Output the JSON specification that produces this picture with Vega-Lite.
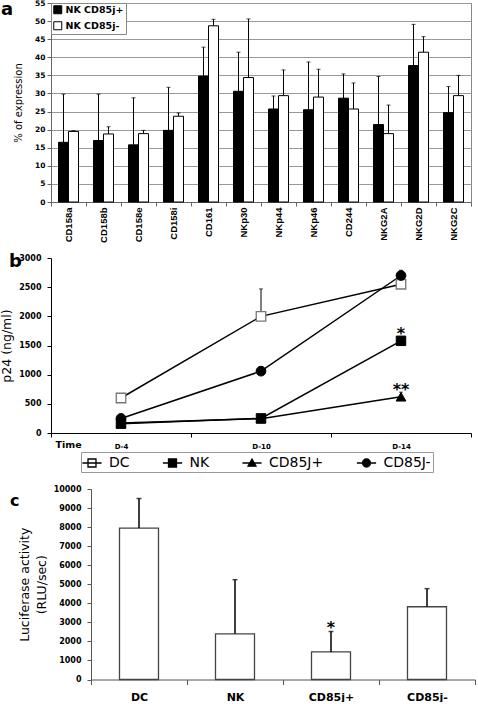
{
  "$schema": "https://vega.github.io/schema/vega-lite/v6.json",
  "background": "white",
  "padding": {"left": 0, "top": -2, "right": 0, "bottom": 0},
  "bounds": "flush",
  "spacing": 56,
  "resolve": {
    "scale": {"fill": "independent", "shape": "independent", "stroke": "independent"},
    "legend": {"fill": "independent", "shape": "independent", "stroke": "independent"}
  },
  "config": {
    "font": "DejaVu Sans",
    "axis": {"labelFont": "DejaVu Sans", "labelFontWeight": "bold", "labelColor": "black", "titleFont": "DejaVu Sans", "titleFontWeight": "normal", "titleColor": "black", "domainColor": "#444", "tickColor": "#444", "grid": false, "tickSize": 4, "labelOverlap": false},
    "legend": {"labelFont": "DejaVu Sans", "labelColor": "black"},
    "title": {"font": "DejaVu Sans", "fontWeight": "bold", "color": "black"}
  },
  "datasets": {
    "a": [
      {"marker": "CD158a", "group": "NK CD85j+", "value": 16.5, "err": 29.8},
      {"marker": "CD158a", "group": "NK CD85j-", "value": 19.5, "err": 19.7},
      {"marker": "CD158b", "group": "NK CD85j+", "value": 17.0, "err": 29.8},
      {"marker": "CD158b", "group": "NK CD85j-", "value": 18.8, "err": 20.8},
      {"marker": "CD158e", "group": "NK CD85j+", "value": 15.8, "err": 28.8},
      {"marker": "CD158e", "group": "NK CD85j-", "value": 18.9, "err": 19.8},
      {"marker": "CD158i", "group": "NK CD85j+", "value": 19.8, "err": 31.7},
      {"marker": "CD158i", "group": "NK CD85j-", "value": 23.7, "err": 24.6},
      {"marker": "CD161", "group": "NK CD85j+", "value": 34.8, "err": 42.8},
      {"marker": "CD161", "group": "NK CD85j-", "value": 48.7, "err": 50.5},
      {"marker": "NKp30", "group": "NK CD85j+", "value": 30.6, "err": 41.4},
      {"marker": "NKp30", "group": "NK CD85j-", "value": 34.4, "err": 50.6},
      {"marker": "NKp44", "group": "NK CD85j+", "value": 25.7, "err": 29.3},
      {"marker": "NKp44", "group": "NK CD85j-", "value": 29.4, "err": 36.5},
      {"marker": "NKp46", "group": "NK CD85j+", "value": 25.5, "err": 38.7},
      {"marker": "NKp46", "group": "NK CD85j-", "value": 29.0, "err": 36.7},
      {"marker": "CD244", "group": "NK CD85j+", "value": 28.7, "err": 35.4},
      {"marker": "CD244", "group": "NK CD85j-", "value": 25.7, "err": 32.9},
      {"marker": "NKG2A", "group": "NK CD85j+", "value": 21.4, "err": 34.7},
      {"marker": "NKG2A", "group": "NK CD85j-", "value": 18.9, "err": 26.8},
      {"marker": "NKG2D", "group": "NK CD85j+", "value": 37.7, "err": 49.1},
      {"marker": "NKG2D", "group": "NK CD85j-", "value": 41.4, "err": 45.7},
      {"marker": "NKG2C", "group": "NK CD85j+", "value": 24.7, "err": 31.9},
      {"marker": "NKG2C", "group": "NK CD85j-", "value": 29.4, "err": 35.0}
    ],
    "b": [
      {"day": "D-4", "series": "DC", "value": 600, "err": 640},
      {"day": "D-10", "series": "DC", "value": 2000, "err": 2470},
      {"day": "D-14", "series": "DC", "value": 2550, "err": 2620},
      {"day": "D-4", "series": "NK", "value": 160, "err": null},
      {"day": "D-10", "series": "NK", "value": 250, "err": null},
      {"day": "D-14", "series": "NK", "value": 1580, "err": null},
      {"day": "D-4", "series": "CD85J+", "value": 170, "err": null},
      {"day": "D-10", "series": "CD85J+", "value": 245, "err": null},
      {"day": "D-14", "series": "CD85J+", "value": 620, "err": 700},
      {"day": "D-4", "series": "CD85J-", "value": 250, "err": 290},
      {"day": "D-10", "series": "CD85J-", "value": 1060, "err": 1140},
      {"day": "D-14", "series": "CD85J-", "value": 2700, "err": 2790}
    ],
    "bstars": [
      {"day": "D-14", "value": 1690, "label": "*"},
      {"day": "D-14", "value": 730, "label": "**"}
    ],
    "c": [
      {"cond": "DC", "value": 7950, "err": 9500},
      {"cond": "NK", "value": 2400, "err": 5240},
      {"cond": "CD85j+", "value": 1450, "err": 2520},
      {"cond": "CD85j-", "value": 3820, "err": 4770}
    ],
    "cstars": [
      {"cond": "CD85j+", "value": 2690, "label": "*"}
    ]
  },
  "vconcat": [
    {
      "width": 420,
      "height": 199,
      "view": {"stroke": "#888", "strokeWidth": 1},
      "title": {"text": "a", "anchor": "start", "orient": "top", "frame": "group", "fontSize": 18, "offset": 0, "dx": -50, "dy": 34, "baseline": "alphabetic"},
      "data": {"name": "a"},
      "encoding": {
        "x": {"field": "marker", "type": "nominal", "sort": null, "title": null,
          "scale": {"type": "band", "paddingInner": 0, "paddingOuter": 0},
          "axis": {"labelAngle": -90, "labelAlign": "right", "labelBaseline": "middle", "labelFont": "Liberation Sans", "labelFontSize": 9.5, "labelPadding": 1, "tickBand": "extent", "tickSize": 4, "domainColor": "#666", "tickColor": "#666"}},
        "xOffset": {"field": "group", "type": "nominal", "sort": null, "scale": {"paddingInner": 0, "paddingOuter": 0.75}}
      },
      "layer": [
        {
          "mark": {"type": "rule", "color": "black", "strokeWidth": 1},
          "encoding": {
            "y": {"field": "value", "type": "quantitative", "scale": {"domain": [0, 55], "nice": false},
              "axis": {"title": "% of expression", "values": [0, 5, 10, 15, 20, 25, 30, 35, 40, 45, 50, 55], "tickCount": 12, "grid": true, "gridColor": "#999", "labelFontSize": 7.5, "labelPadding": 2, "titleFontSize": 10, "titleX": -33, "titleBaseline": "middle", "domainColor": "#666", "tickColor": "#666"}},
            "y2": {"field": "err"}
          }
        },
        {
          "mark": {"type": "tick", "color": "black", "size": 4, "thickness": 1},
          "encoding": {"y": {"field": "err", "type": "quantitative", "scale": {"domain": [0, 55], "nice": false},
              "axis": {"title": "% of expression", "values": [0, 5, 10, 15, 20, 25, 30, 35, 40, 45, 50, 55], "tickCount": 12, "grid": true, "gridColor": "#999", "labelFontSize": 7.5, "labelPadding": 2, "titleFontSize": 10, "titleX": -33, "titleBaseline": "middle", "domainColor": "#666", "tickColor": "#666"}}}
        },
        {
          "mark": {"type": "bar", "stroke": "black", "strokeWidth": 1},
          "encoding": {
            "y": {"field": "value", "type": "quantitative", "scale": {"domain": [0, 55], "nice": false},
              "axis": {"title": "% of expression", "values": [0, 5, 10, 15, 20, 25, 30, 35, 40, 45, 50, 55], "tickCount": 12, "grid": true, "gridColor": "#999", "labelFontSize": 7.5, "labelPadding": 2, "titleFontSize": 10, "titleX": -33, "titleBaseline": "middle", "domainColor": "#666", "tickColor": "#666"}},
            "fill": {"field": "group", "type": "nominal", "sort": null,
              "scale": {"domain": ["NK CD85j+", "NK CD85j-"], "range": ["black", "white"]},
              "legend": {"title": null, "orient": "top-left", "offset": 0, "padding": 2, "strokeColor": "#888", "fillColor": "white", "symbolType": "square", "symbolSize": 64, "symbolStrokeColor": "black", "symbolStrokeWidth": 1, "labelFont": "DejaVu Sans", "labelFontWeight": "bold", "labelFontSize": 9.5, "rowPadding": 3, "labelOffset": 3}}
          }
        }
      ]
    },
    {
      "width": 420,
      "height": 175,
      "view": {"stroke": null},
      "title": {"text": "b", "anchor": "start", "orient": "top", "frame": "group", "fontSize": 18, "offset": 0, "dx": -42, "dy": 31, "baseline": "alphabetic"},
      "encoding": {
        "x": {"field": "day", "type": "nominal", "title": "Time",
          "scale": {"type": "band", "domain": ["D-4", "D-10", "D-14"], "paddingInner": 0, "paddingOuter": 0},
          "axis": {"labelAngle": 0, "labelFontSize": 7, "labelPadding": 5.5, "tickBand": "extent", "tickSize": 4, "titleFontWeight": "bold", "titleFontSize": 9.5, "titleX": 4, "titleY": 11, "titleAlign": "left", "titleBaseline": "middle", "domainColor": "black", "tickColor": "black"}},
        "y": {"field": "value", "type": "quantitative", "scale": {"domain": [0, 3000], "nice": false},
          "axis": {"title": "p24 (ng/ml)", "values": [0, 500, 1000, 1500, 2000, 2500, 3000], "tickCount": 7, "format": "d", "labelFontSize": 8, "labelPadding": 6, "titleFontSize": 12.5, "titleX": -45, "titleBaseline": "middle", "domainColor": "black", "tickColor": "black"}}
      },
      "layer": [
        {
          "data": {"name": "b"},
          "mark": {"type": "line", "color": "black", "strokeWidth": 1.5},
          "encoding": {"detail": {"field": "series"}}
        },
        {
          "data": {"name": "b"},
          "transform": [{"filter": "datum.err != null"}],
          "mark": {"type": "rule", "color": "black", "strokeWidth": 1},
          "encoding": {"y2": {"field": "err"}}
        },
        {
          "data": {"name": "b"},
          "transform": [{"filter": "datum.err != null"}],
          "mark": {"type": "tick", "color": "black", "size": 4, "thickness": 1},
          "encoding": {"y": {"field": "err", "type": "quantitative", "scale": {"domain": [0, 3000], "nice": false},
            "axis": {"title": "p24 (ng/ml)", "values": [0, 500, 1000, 1500, 2000, 2500, 3000], "tickCount": 7, "format": "d", "labelFontSize": 8, "labelPadding": 6, "titleFontSize": 12.5, "titleX": -45, "titleBaseline": "middle", "domainColor": "black", "tickColor": "black"}}}
        },
        {
          "data": {"name": "b"},
          "transform": [{"filter": {"field": "series", "equal": "DC"}}],
          "mark": {"type": "point", "shape": "square", "filled": true, "fill": "white", "stroke": "#777", "strokeWidth": 1.3, "size": 90, "opacity": 1}
        },
        {
          "data": {"name": "b"},
          "transform": [{"filter": {"field": "series", "equal": "NK"}}],
          "mark": {"type": "point", "shape": "square", "filled": true, "fill": "black", "stroke": "black", "strokeWidth": 1, "size": 90, "opacity": 1}
        },
        {
          "data": {"name": "b"},
          "transform": [{"filter": {"field": "series", "equal": "CD85J+"}}],
          "mark": {"type": "point", "shape": "triangle-up", "filled": true, "fill": "black", "stroke": "black", "strokeWidth": 1, "size": 95, "opacity": 1}
        },
        {
          "data": {"name": "b"},
          "transform": [{"filter": {"field": "series", "equal": "CD85J-"}}],
          "mark": {"type": "point", "shape": "circle", "filled": true, "fill": "black", "stroke": "black", "strokeWidth": 1, "size": 95, "opacity": 1}
        },
        {
          "data": {"name": "b"},
          "transform": [{"filter": "false"}],
          "mark": {"type": "point", "filled": false, "color": "black", "strokeWidth": 1.3, "opacity": 1},
          "encoding": {
            "shape": {"field": "series", "type": "nominal",
              "scale": {"domain": ["DC", "NK", "CD85J+", "CD85J-"], "range": ["M-1.2,0H1.2M-0.5,-0.5H0.5V0.5H-0.5Z", "M-1.2,0H1.2M-0.5,-0.5H0.5V0.5H-0.5Z", "M-1.2,0H1.2M0,-0.5L0.5,0.4L-0.5,0.4Z", "M-1.2,0H1.2M0.5,0A0.5,0.5,0,1,1,-0.5,0A0.5,0.5,0,1,1,0.5,0Z"]},
              "legend": {"title": "\u2003", "titleOrient": "left", "titleFontSize": 14, "titlePadding": 0, "orient": "none", "legendX": 30, "legendY": 194, "direction": "horizontal", "columns": 4, "padding": 2, "strokeColor": "#999", "fillColor": "white", "symbolSize": 256, "symbolStrokeWidth": 1.3, "labelFontSize": 14, "labelOffset": 8, "columnPadding": 29.5}},
            "stroke": {"field": "series", "type": "nominal",
              "scale": {"domain": ["DC", "NK", "CD85J+", "CD85J-"], "range": ["black", "black", "black", "black"]},
              "legend": {"title": "\u2003", "titleOrient": "left", "titleFontSize": 14, "titlePadding": 0, "orient": "none", "legendX": 30, "legendY": 194, "direction": "horizontal", "columns": 4, "padding": 2, "strokeColor": "#999", "fillColor": "white", "symbolSize": 256, "symbolStrokeWidth": 1.3, "labelFontSize": 14, "labelOffset": 8, "columnPadding": 29.5}},
            "fill": {"field": "series", "type": "nominal",
              "scale": {"domain": ["DC", "NK", "CD85J+", "CD85J-"], "range": ["white", "black", "black", "black"]},
              "legend": {"title": "\u2003", "titleOrient": "left", "titleFontSize": 14, "titlePadding": 0, "orient": "none", "legendX": 30, "legendY": 194, "direction": "horizontal", "columns": 4, "padding": 2, "strokeColor": "#999", "fillColor": "white", "symbolSize": 256, "symbolStrokeWidth": 1.3, "labelFontSize": 14, "labelOffset": 8, "columnPadding": 29.5}}
          }
        },
        {
          "data": {"name": "bstars"},
          "mark": {"type": "text", "fontSize": 16, "fontWeight": "bold", "baseline": "middle", "font": "DejaVu Sans", "color": "black"},
          "encoding": {"text": {"field": "label"}}
        }
      ]
    },
    {
      "width": 424,
      "height": 190.5,
      "view": {"stroke": null},
      "title": {"text": "c", "anchor": "start", "orient": "top", "frame": "group", "fontSize": 16, "offset": 0, "dx": -41, "dy": 37, "baseline": "alphabetic"},
      "encoding": {
        "x": {"field": "cond", "type": "nominal", "title": null,
          "scale": {"type": "band", "domain": ["DC", "NK", "CD85j+", "CD85j-"], "range": [40, 424], "paddingInner": 0, "paddingOuter": 0},
          "axis": {"labelAngle": 0, "labelFontSize": 11, "labelPadding": 6.5, "tickBand": "extent", "tickSize": 5, "domainColor": "#555", "tickColor": "#555"}},
        "y": {"field": "value", "type": "quantitative", "scale": {"domain": [0, 10000], "nice": false},
          "axis": {"title": ["Luciferase activity", "(RLU/sec)"], "offset": -40, "values": [0, 1000, 2000, 3000, 4000, 5000, 6000, 7000, 8000, 9000, 10000], "tickCount": 11, "format": "d", "labelFontSize": 8, "labelPadding": 6, "titleFontSize": 12.5, "titleX": -67, "titleBaseline": "middle", "titleLineHeight": 17, "domainColor": "#555", "tickColor": "#555"}}
      },
      "layer": [
        {
          "data": {"name": "c"},
          "mark": {"type": "bar", "size": 39, "fill": "white", "stroke": "#444", "strokeWidth": 1.3}
        },
        {
          "data": {"name": "c"},
          "mark": {"type": "rule", "color": "black", "strokeWidth": 1.5},
          "encoding": {"y2": {"field": "err"}}
        },
        {
          "data": {"name": "c"},
          "mark": {"type": "tick", "color": "black", "size": 5, "thickness": 1.5},
          "encoding": {"y": {"field": "err", "type": "quantitative", "scale": {"domain": [0, 10000], "nice": false},
            "axis": {"title": ["Luciferase activity", "(RLU/sec)"], "offset": -40, "values": [0, 1000, 2000, 3000, 4000, 5000, 6000, 7000, 8000, 9000, 10000], "tickCount": 11, "format": "d", "labelFontSize": 8, "labelPadding": 6, "titleFontSize": 12.5, "titleX": -67, "titleBaseline": "middle", "titleLineHeight": 17, "domainColor": "#555", "tickColor": "#555"}}}
        },
        {
          "data": {"name": "cstars"},
          "mark": {"type": "text", "fontSize": 16, "fontWeight": "bold", "baseline": "middle", "font": "DejaVu Sans", "color": "black"},
          "encoding": {"text": {"field": "label"}}
        }
      ]
    }
  ]
}
